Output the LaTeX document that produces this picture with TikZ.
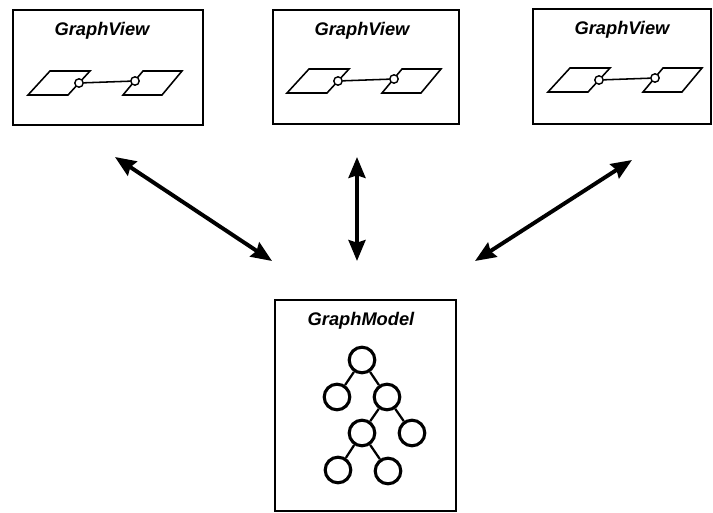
\documentclass[tikz,border=0pt]{standalone}
\usepackage{fontspec}
\setmainfont{Liberation Sans}
\usetikzlibrary{calc,arrows.meta}

\tikzset{
  panel/.style={line width=1.4pt},
  heading/.style={font=\fontsize{13}{15}\selectfont\bfseries\itshape, inner sep=1pt},
  sheet/.style={line width=1.1pt, line join=miter},
  port/.style={circle, draw, fill=white, line width=1pt, inner sep=0pt, minimum size=0.21cm},
  wire/.style={line width=1.1pt},
  treenode/.style={circle, draw, line width=2.2pt, inner sep=0pt, minimum size=0.64cm},
  branch/.style={line width=1.6pt},
  link/.style={line width=2.8pt, {Stealth[length=5.2mm,width=4.2mm,inset=0.6mm]}-{Stealth[length=5.2mm,width=4.2mm,inset=0.6mm]}}
}

% two sheets joined by a wire, #1 = prefix, (#2,#3) = lower left corner of the first sheet
\def\viewsketch(#1)(#2,#3){
  \draw[sheet] (#2,#3) -- ++(22,-24) -- ++(40,0) -- ++(-22,24) -- cycle;
  \draw[sheet] ($(#2,#3)+(95,0)$) -- ++(20,-24) -- ++(39,0) -- ++(-20,24) -- cycle;
  \node[port] (#1-a) at ($(#2,#3)+(51,-12)$) {};
  \node[port] (#1-b) at ($(#2,#3)+(107,-14)$) {};
  \draw[wire] (#1-a) -- (#1-b);
}

\begin{document}
\begin{tikzpicture}[x=0.025cm, y=-0.025cm]
  %%%%% START %%%%%
  \useasboundingbox (0,0) rectangle (713,513);

  % views
  \draw[panel] (13,10) rectangle (203,125);
  \node[heading] (t1) at (102,31) {GraphView};
  \viewsketch(s1)(28,95)

  \draw[panel] (273,10) rectangle (459,124);
  \node[heading] (t2) at (362,31) {GraphView};
  \viewsketch(s2)(287,93)

  \draw[panel] (533,9) rectangle (711,124);
  \node[heading] (t3) at (622,30) {GraphView};
  \viewsketch(s3)(548,92)

  % model
  \draw[panel] (275,300) rectangle (456,511);
  \node[heading] (tm) at (361,321) {GraphModel};

  \node[treenode] (n1) at (362,360) {};
  \node[treenode] (n2) at (337,397) {};
  \node[treenode] (n3) at (387,397) {};
  \node[treenode] (n4) at (362,433) {};
  \node[treenode] (n5) at (412,433) {};
  \node[treenode] (n6) at (338,470) {};
  \node[treenode] (n7) at (388,471) {};
  \draw[branch] (n1) -- (n2);
  \draw[branch] (n1) -- (n3);
  \draw[branch] (n3) -- (n4);
  \draw[branch] (n3) -- (n5);
  \draw[branch] (n4) -- (n6);
  \draw[branch] (n4) -- (n7);

  % arrows between views and model
  \coordinate (a1) at (115,157);
  \coordinate (b1) at (272,261);
  \coordinate (a2) at (357,157);
  \coordinate (b2) at (357,261);
  \coordinate (a3) at (632,160);
  \coordinate (b3) at (475,261);
  \draw[link] (a1) -- (b1);
  \draw[link] (a2) -- (b2);
  \draw[link] (a3) -- (b3);
  %%%%% END %%%%%
\end{tikzpicture}
\end{document}
